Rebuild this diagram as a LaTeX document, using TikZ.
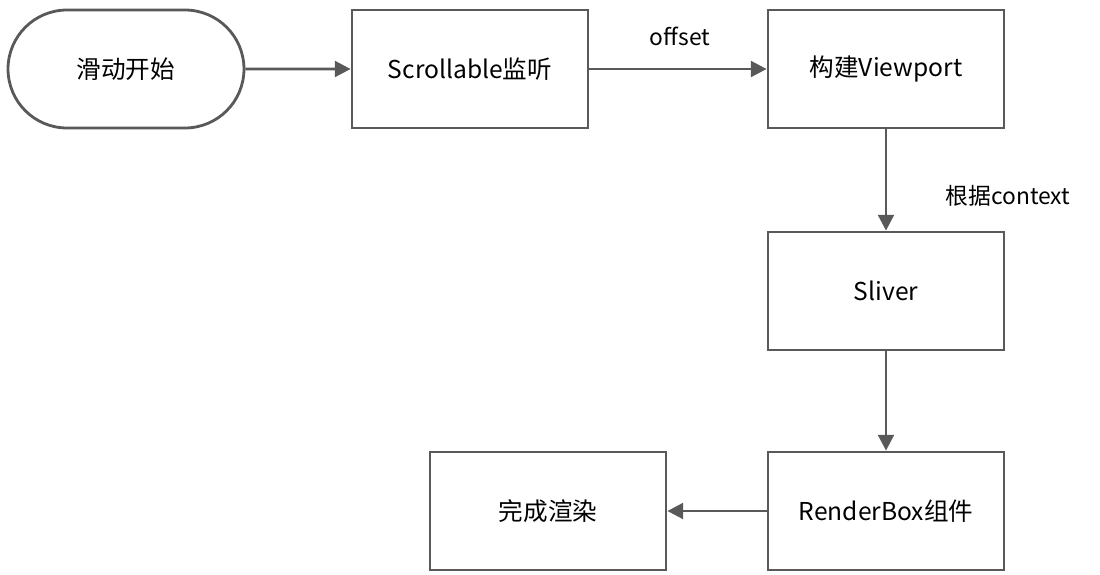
\documentclass[tikz,border=0pt]{standalone}
\usepackage{fontspec}
\setmainfont{Noto Sans CJK SC}
\usetikzlibrary{arrows.meta,shapes.misc}
\definecolor{linegray}{HTML}{595959}
\begin{document}
\begin{tikzpicture}[x=0.02cm,y=-0.02cm,
  box/.style={draw=linegray,line width=1.6pt,minimum width=4.72cm,minimum height=2.36cm,inner sep=0pt,font=\fontsize{14}{16}\selectfont},
  term/.style={box,rounded rectangle},
  flow/.style={draw=linegray,line width=1.6pt,-{Triangle[length=9pt,width=9pt]}},
  lbl/.style={font=\fontsize{13}{15}\selectfont}]
\useasboundingbox (0,0) rectangle (1100,575);
\node[term] (start) at (126,69) {滑动开始};
\node[box] (scroll) at (470,69) {Scrollable监听};
\node[box] (view) at (886,69) {构建Viewport};
\node[box] (sliver) at (886,291) {Sliver};
\node[box] (render) at (886,511) {RenderBox组件};
\node[box] (done) at (548,511) {完成渲染};
\node[lbl] (off) at (680,36) {offset};
\node[lbl] (ctx) at (1008,196) {根据context};

\draw[flow] (start) -- (scroll);
\draw[flow] (scroll) -- (view);
\draw[flow] (view) -- (sliver);
\draw[flow] (sliver) -- (render);
\draw[flow] (render) -- (done);
\end{tikzpicture}
\end{document}
